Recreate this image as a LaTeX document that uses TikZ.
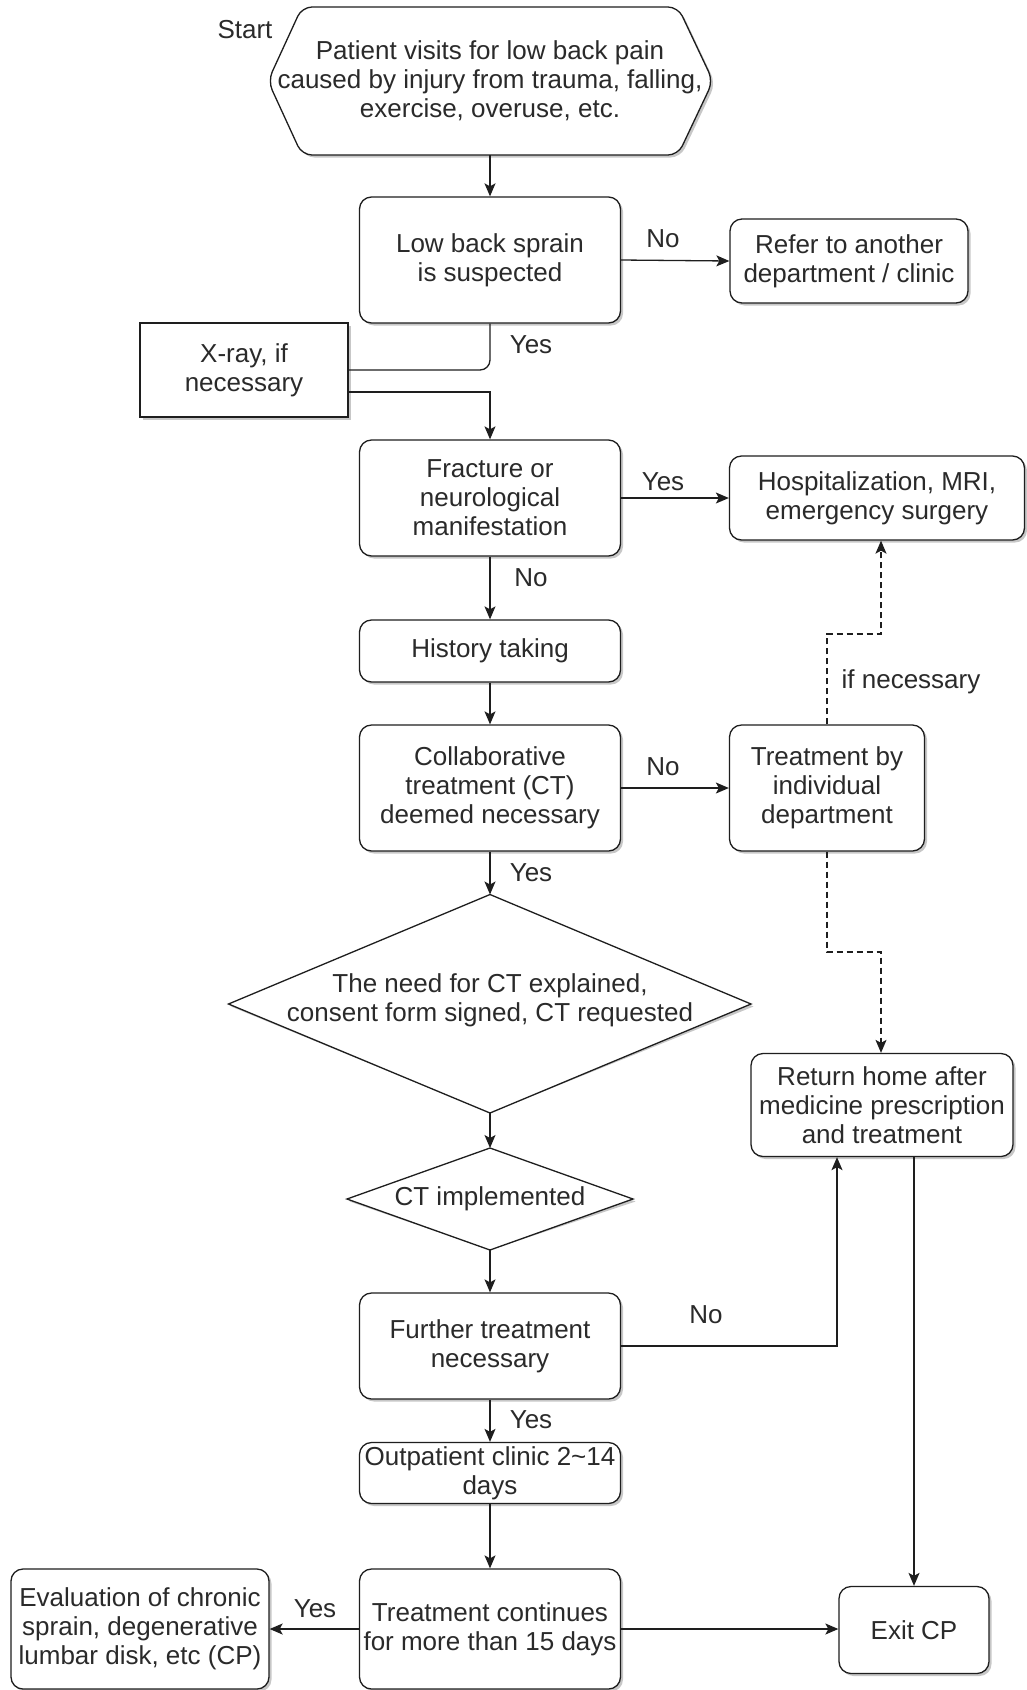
\documentclass[tikz,border=0pt]{standalone}
\usepackage{fontspec}
\setmainfont{Liberation Sans}
\usetikzlibrary{arrows.meta,shadows}
\definecolor{ink}{HTML}{1E1E1E}
\definecolor{txt}{HTML}{2A2A2A}
\tikzset{
  x=1pt, y=-1pt,
  myshadow/.style={drop shadow={shadow xshift=2.5pt, shadow yshift=-2.5pt, fill=black, opacity=0.22}},
  box/.style={draw=ink, line width=1.3pt, rounded corners=12pt, fill=white, myshadow,
    align=center, text=txt, font=\fontsize{26}{29}\selectfont, inner sep=1pt},
  sqbox/.style={box, rounded corners=0pt},
  outline/.style={draw=ink, line width=1.3pt, fill=white},
  shad/.style={fill=black, opacity=0.22},
  lbl/.style={text=txt, font=\fontsize{26}{29}\selectfont, inner sep=0pt},
  conn/.style={draw=ink, line width=1.3pt},
  arr/.style={conn, -{Stealth[length=13pt,width=11pt,inset=3pt]}},
  darr/.style={arr, dash pattern=on 6pt off 4pt},
}
\begin{document}
\begin{tikzpicture}
\useasboundingbox (0,0) rectangle (1027,1690);
\fill[white] (0,0) rectangle (1027,1690);

% start hexagon
\fill[shad, rounded corners=10pt, xshift=2.5pt, yshift=-2.5pt]
  (268,81) -- (302,7) -- (678,7) -- (713,81) -- (678,155) -- (302,155) -- cycle;
\draw[outline, rounded corners=10pt]
  (268,81) -- (302,7) -- (678,7) -- (713,81) -- (678,155) -- (302,155) -- cycle;
\node[lbl, align=center, minimum height=148pt] (start) at (490,81)
  {Patient visits for low back pain\\caused by injury from trauma, falling,\\exercise, overuse, etc.};
\node[lbl] (startlbl) at (245,30) {Start};

\node[box, minimum width=261pt, minimum height=126pt] (lbs) at (490,260) {Low back sprain\\is suspected};
\node[box, minimum width=238pt, minimum height=84pt] (refer) at (849,261) {Refer to another\\department / clinic};
\node[sqbox, minimum width=208pt, minimum height=94pt] (xray) at (244,370) {X-ray, if\\necessary};
\node[box, minimum width=261pt, minimum height=116pt] (frac) at (490,498) {Fracture or\\neurological\\manifestation};
\node[box, minimum width=295pt, minimum height=84pt] (hosp) at (877,498) {Hospitalization, MRI,\\emergency surgery};
\node[box, minimum width=261pt, minimum height=62pt] (hist) at (490,651) {History taking};
\node[box, minimum width=261pt, minimum height=126pt] (collab) at (490,788) {Collaborative\\treatment (CT)\\deemed necessary};
\node[box, minimum width=195pt, minimum height=126pt] (tbi) at (827,788) {Treatment by\\individual\\department};

% diamonds
\coordinate (needT) at (490,894.5);
\coordinate (needB) at (490,1113);
\fill[shad, xshift=2.5pt, yshift=-2.5pt] (needT) -- (751,1004) -- (needB) -- (228.5,1004) -- cycle;
\draw[outline] (needT) -- (751,1004) -- (needB) -- (228.5,1004) -- cycle;
\node[lbl, align=center] (need) at (490,1000) {The need for CT explained,\\consent form signed, CT requested};

\coordinate (implT) at (490,1148);
\coordinate (implB) at (490,1250);
\fill[shad, xshift=2.5pt, yshift=-2.5pt] (implT) -- (633,1199) -- (implB) -- (347,1199) -- cycle;
\draw[outline] (implT) -- (633,1199) -- (implB) -- (347,1199) -- cycle;
\node[lbl] (impl) at (490,1199) {CT implemented};

\node[box, minimum width=261pt, minimum height=106pt] (fur) at (490,1346) {Further treatment\\necessary};
\node[box, minimum width=262pt, minimum height=103pt] (ret) at (882,1105) {Return home after\\medicine prescription\\and treatment};
\node[box, minimum width=261pt, minimum height=61pt] (out) at (490,1473) {Outpatient clinic 2\textasciitilde14\\days};
\node[box, minimum width=261pt, minimum height=120pt] (tc) at (490,1629) {Treatment continues\\for more than 15 days};
\node[box, minimum width=258pt, minimum height=120pt] (eval) at (140,1629) {Evaluation of chronic\\sprain, degenerative\\lumbar disk, etc (CP)};
\node[box, minimum width=150pt, minimum height=87pt] (exit) at (914,1630) {Exit CP};

% connectors
\draw[arr] (start.south) -- (lbs.north);
\draw[arr] (lbs.east) -- (refer.west);
\draw[conn, rounded corners=10pt] (lbs.south) |- (xray.east);
\draw[arr] ([yshift=-22pt]xray.east) -| (frac.north);
\draw[arr] (frac.east) -- (frac.east -| hosp.west);
\draw[arr] (frac.south) -- (hist.north);
\draw[arr] (hist.south) -- (collab.north);
\draw[arr] (collab.east) -- (tbi.west);
\draw[arr] (collab.south) -- (needT);
\draw[arr] (needB) -- (implT);
\draw[arr] (implB) -- (fur.north);
\draw[arr] (fur.south) -- (out.north);
\draw[arr] (out.south) -- (tc.north);
\draw[arr] (tc.west) -- (eval.east);
\draw[arr] (tc.east) -- (tc.east -| exit.west);
\draw[arr] (fur.east) -| ([xshift=-45pt]ret.south);
\draw[arr] (ret.south -| exit.north) -- (exit.north);

\coordinate (d1) at (881,634);
\coordinate (d2) at (881,952);
\draw[darr] (tbi.north) |- (d1) -- (hosp.south -| d1);
\draw[darr] (tbi.south) |- (d2) -- (ret.north -| d2);

% labels
\node[lbl] (l1) at (663,239) {No};
\node[lbl] (l2) at (531,345) {Yes};
\node[lbl] (l3) at (663,482) {Yes};
\node[lbl] (l4) at (531,578) {No};
\node[lbl] (l5) at (911,682) {if necessary};
\node[lbl] (l6) at (663,767) {No};
\node[lbl] (l7) at (531,873) {Yes};
\node[lbl] (l8) at (706,1315) {No};
\node[lbl] (l9) at (531,1420) {Yes};
\node[lbl] (l10) at (315,1609) {Yes};
\end{tikzpicture}
\end{document}
